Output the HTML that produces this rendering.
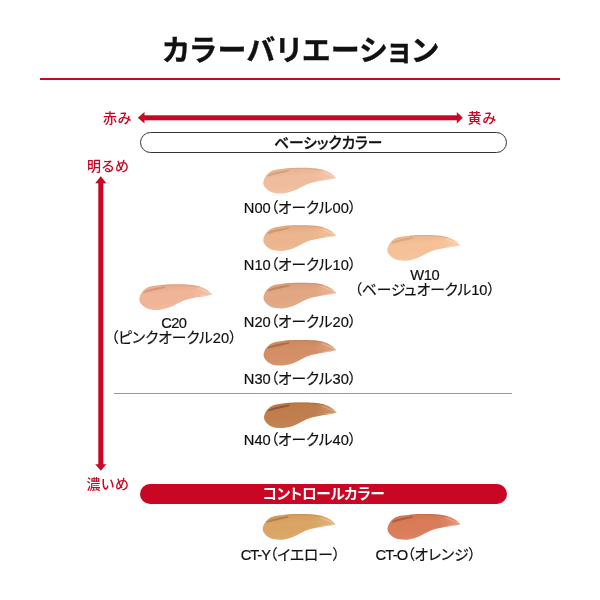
<!DOCTYPE html>
<html lang="ja">
<head>
<meta charset="utf-8">
<title>カラーバリエーション</title>
<style>
html,body{margin:0;padding:0;background:#fff;}
body{width:600px;height:600px;position:relative;overflow:hidden;font-family:"Liberation Sans","Noto Sans CJK JP",sans-serif;color:#111;}
.abs{position:absolute;white-space:nowrap;}
h1{position:absolute;left:0;top:29.2px;width:600px;margin:0;text-align:center;font-size:29px;line-height:44px;font-weight:700;color:#111;letter-spacing:1px;text-indent:2px;-webkit-text-stroke:0.3px #111;font-feature-settings:"palt";}
.rule{position:absolute;left:40px;top:78px;width:520px;height:2px;background:#c90725;}
.red{color:#c90725;font-size:14px;line-height:20px;font-weight:500;letter-spacing:0.6px;font-feature-settings:"palt";}
.pill{position:absolute;left:140px;width:367px;height:20px;border-radius:11px;box-sizing:border-box;text-align:center;font-size:14.7px;line-height:19px;font-feature-settings:"palt";}
.pill.basic{top:131.8px;height:21.7px;border:1.2px solid #333;background:#fff;color:#111;font-weight:500;-webkit-text-stroke:0.3px #111;padding-left:9.5px;line-height:21.6px;}
.pill.ctrl{top:483.8px;height:20.4px;background:#c90725;color:#fff;font-weight:700;line-height:21px;letter-spacing:-0.3px;}
.gline{position:absolute;left:114px;top:393.2px;width:397.5px;height:1.3px;background:#999;}
.lbl{position:absolute;white-space:nowrap;font-size:14.7px;line-height:15.5px;font-feature-settings:"palt";text-align:center;color:#111;font-weight:400;-webkit-text-stroke:0.2px #111;transform:translateX(-50%);}
svg{position:absolute;left:0;top:0;}
</style>
</head>
<body>
<h1>カラーバリエーション</h1>
<div class="rule"></div>

<div class="abs red" style="left:103px;top:108px;">赤み</div>
<div class="abs red" style="left:467.6px;top:108px;">黄み</div>
<div class="abs red" style="left:87px;top:156px;">明るめ</div>
<div class="abs red" style="left:86.5px;top:474.4px;">濃いめ</div>

<div class="pill basic">ベーシックカラー</div>
<div class="pill ctrl">コントロールカラー</div>
<div class="gline"></div>

<svg width="600" height="600" viewBox="0 0 600 600">
  <defs>
    <path id="sw" d="M0.0,15.1 C0.0,13.2 1.1,10.3 2.4,8.4 C3.7,6.5 5.6,4.7 7.8,3.5 C10.0,2.3 12.5,2.0 15.4,1.5 C18.3,1.0 21.7,0.7 25.2,0.4 C28.7,0.2 32.2,0.0 36.4,0.0 C40.6,0.0 46.4,0.0 50.4,0.4 C54.4,0.8 57.4,1.4 60.2,2.2 C63.0,3.0 65.1,4.0 67.2,5.3 C69.3,6.6 72.8,10.2 72.8,10.2 C72.8,10.2 69.8,11.1 67.2,11.6 C64.6,12.1 60.7,12.4 57.4,13.0 C54.1,13.6 50.6,14.2 47.6,15.1 C44.6,16.0 42.0,17.3 39.2,18.6 C36.4,19.9 33.6,21.7 30.8,22.8 C28.0,23.9 25.2,24.7 22.4,25.2 C19.6,25.7 16.6,25.8 14.0,25.6 C11.4,25.4 9.0,24.7 7.0,23.8 C5.0,22.9 3.3,21.4 2.1,20.0 C0.9,18.6 -0.0,17.0 0.0,15.1Z"/>
    <linearGradient id="tipg" x1="0" y1="0" x2="1" y2="0"><stop offset="0" stop-color="#fff" stop-opacity="0"/><stop offset="0.7" stop-color="#fff" stop-opacity="0"/><stop offset="1" stop-color="#ffe9c0" stop-opacity="0.22"/></linearGradient>
    <linearGradient id="vg" x1="0" y1="0" x2="0.25" y2="1"><stop offset="0" stop-color="#a04a14" stop-opacity="0.13"/><stop offset="0.45" stop-color="#a04a14" stop-opacity="0"/><stop offset="1" stop-color="#fff" stop-opacity="0.07"/></linearGradient>
    <filter id="soft" x="-5%" y="-10%" width="110%" height="120%"><feGaussianBlur stdDeviation="0.35"/></filter>
  </defs>
  <!-- arrows -->
  <g fill="#c90725">
    <rect x="143" y="115.3" width="315" height="5"/>
    <polygon points="137.8,117.8 144.5,112 144.5,123.6"/>
    <polygon points="462.8,117.8 456.8,112 456.8,123.6"/>
    <rect x="98.3" y="182" width="5" height="283"/>
    <polygon points="100.8,176.3 95.2,183.3 106.4,183.3"/>
    <polygon points="100.8,470.8 95.2,464.3 106.4,464.3"/>
  </g>
  <g transform="translate(263.3 167.8)" filter="url(#soft)"><use href="#sw" fill="#f0be9e"/><use href="#sw" fill="url(#tipg)"/><use href="#sw" fill="url(#vg)"/><path d="M58,3.6 L71.5,9.2 M61,11.6 L71,10.6" stroke="#fff" stroke-width="0.6" opacity="0.45" fill="none"/><path d="M5,7.8 C9,6.4 15,5.6 25,3 C18,3.9 10,5 5,7.8Z" fill="#d39e7a" stroke="#d39e7a" stroke-width="1.6" stroke-linejoin="round" opacity="0.9"/><path d="M22,1.2 C34,0.2 48,0.2 60,2.4" fill="none" stroke="#cc9976" stroke-width="0.9" stroke-linecap="round" opacity="0.5"/></g>
  <g transform="translate(263.3 225.2)" filter="url(#soft)"><use href="#sw" fill="#ecb68e"/><use href="#sw" fill="url(#tipg)"/><use href="#sw" fill="url(#vg)"/><path d="M58,3.6 L71.5,9.2 M61,11.6 L71,10.6" stroke="#fff" stroke-width="0.6" opacity="0.45" fill="none"/><path d="M5,7.8 C9,6.4 15,5.6 25,3 C18,3.9 10,5 5,7.8Z" fill="#cc956c" stroke="#cc956c" stroke-width="1.6" stroke-linejoin="round" opacity="0.9"/><path d="M22,1.2 C34,0.2 48,0.2 60,2.4" fill="none" stroke="#c8926a" stroke-width="0.9" stroke-linecap="round" opacity="0.5"/></g>
  <g transform="translate(263.5 282.7)" filter="url(#soft)"><use href="#sw" fill="#e2a783"/><use href="#sw" fill="url(#tipg)"/><use href="#sw" fill="url(#vg)"/><path d="M58,3.6 L71.5,9.2 M61,11.6 L71,10.6" stroke="#fff" stroke-width="0.6" opacity="0.45" fill="none"/><path d="M5,7.8 C9,6.4 15,5.6 25,3 C18,3.9 10,5 5,7.8Z" fill="#bc8460" stroke="#bc8460" stroke-width="1.6" stroke-linejoin="round" opacity="0.9"/><path d="M22,1.2 C34,0.2 48,0.2 60,2.4" fill="none" stroke="#c08661" stroke-width="0.9" stroke-linecap="round" opacity="0.5"/></g>
  <g transform="translate(263.6 339.9)" filter="url(#soft)"><use href="#sw" fill="#d48f66"/><use href="#sw" fill="url(#tipg)"/><use href="#sw" fill="url(#vg)"/><path d="M58,3.6 L71.5,9.2 M61,11.6 L71,10.6" stroke="#fff" stroke-width="0.6" opacity="0.45" fill="none"/><path d="M5,7.8 C9,6.4 15,5.6 25,3 C18,3.9 10,5 5,7.8Z" fill="#a66a46" stroke="#a66a46" stroke-width="1.5" stroke-linejoin="round" opacity="0.9"/><path d="M22,1.2 C34,0.2 48,0.2 60,2.4" fill="none" stroke="#b4734c" stroke-width="0.9" stroke-linecap="round" opacity="0.5"/></g>
  <g transform="translate(264 402.4)" filter="url(#soft)"><use href="#sw" fill="#c07e4e"/><use href="#sw" fill="url(#tipg)"/><use href="#sw" fill="url(#vg)"/><path d="M58,3.6 L71.5,9.2 M61,11.6 L71,10.6" stroke="#fff" stroke-width="0.6" opacity="0.45" fill="none"/><path d="M5,7.8 C9,6.4 15,5.6 25,3 C18,3.9 10,5 5,7.8Z" fill="#8a5631" stroke="#8a5631" stroke-width="1.5" stroke-linejoin="round" opacity="0.9"/><path d="M22,1.2 C34,0.2 48,0.2 60,2.4" fill="none" stroke="#a3653a" stroke-width="0.9" stroke-linecap="round" opacity="0.5"/></g>
  <g transform="translate(139.3 284.3)" filter="url(#soft)"><use href="#sw" fill="#f1b599"/><use href="#sw" fill="url(#tipg)"/><use href="#sw" fill="url(#vg)"/><path d="M58,3.6 L71.5,9.2 M61,11.6 L71,10.6" stroke="#fff" stroke-width="0.6" opacity="0.45" fill="none"/><path d="M5,7.8 C9,6.4 15,5.6 25,3 C18,3.9 10,5 5,7.8Z" fill="#d49776" stroke="#d49776" stroke-width="1.6" stroke-linejoin="round" opacity="0.9"/><path d="M22,1.2 C34,0.2 48,0.2 60,2.4" fill="none" stroke="#cc9272" stroke-width="0.9" stroke-linecap="round" opacity="0.5"/></g>
  <g transform="translate(387.3 235)" filter="url(#soft)"><use href="#sw" fill="#f5c29a"/><use href="#sw" fill="url(#tipg)"/><use href="#sw" fill="url(#vg)"/><path d="M58,3.6 L71.5,9.2 M61,11.6 L71,10.6" stroke="#fff" stroke-width="0.6" opacity="0.45" fill="none"/><path d="M5,7.8 C9,6.4 15,5.6 25,3 C18,3.9 10,5 5,7.8Z" fill="#dba579" stroke="#dba579" stroke-width="1.6" stroke-linejoin="round" opacity="0.9"/><path d="M22,1.2 C34,0.2 48,0.2 60,2.4" fill="none" stroke="#d09c73" stroke-width="0.9" stroke-linecap="round" opacity="0.5"/></g>
  <g transform="translate(262.7 514)" filter="url(#soft)"><use href="#sw" fill="#daa565"/><use href="#sw" fill="url(#tipg)"/><use href="#sw" fill="url(#vg)"/><path d="M58,3.6 L71.5,9.2 M61,11.6 L71,10.6" stroke="#fff" stroke-width="0.6" opacity="0.45" fill="none"/><path d="M5,7.8 C9,6.4 15,5.6 25,3 C18,3.9 10,5 5,7.8Z" fill="#af7e47" stroke="#af7e47" stroke-width="1.5" stroke-linejoin="round" opacity="0.9"/><path d="M22,1.2 C34,0.2 48,0.2 60,2.4" fill="none" stroke="#b9854b" stroke-width="0.9" stroke-linecap="round" opacity="0.5"/></g>
  <g transform="translate(387.5 514)" filter="url(#soft)"><use href="#sw" fill="#d97c5a"/><use href="#sw" fill="url(#tipg)"/><use href="#sw" fill="url(#vg)"/><path d="M58,3.6 L71.5,9.2 M61,11.6 L71,10.6" stroke="#fff" stroke-width="0.6" opacity="0.45" fill="none"/><path d="M5,7.8 C9,6.4 15,5.6 25,3 C18,3.9 10,5 5,7.8Z" fill="#ab593c" stroke="#ab593c" stroke-width="1.5" stroke-linejoin="round" opacity="0.9"/><path d="M22,1.2 C34,0.2 48,0.2 60,2.4" fill="none" stroke="#b65f40" stroke-width="0.9" stroke-linecap="round" opacity="0.5"/></g>
</svg>

<div class="lbl" style="left:300px;top:201px;">N00（オークル00）</div>
<div class="lbl" style="left:300px;top:258px;">N10（オークル10）</div>
<div class="lbl" style="left:300px;top:315px;">N20（オークル20）</div>
<div class="lbl" style="left:300px;top:372px;">N30（オークル30）</div>
<div class="lbl" style="left:300px;top:432.8px;">N40（オークル40）</div>
<div class="lbl" style="left:173.8px;top:315.5px;"><span style="letter-spacing:-0.6px">C20</span><br>（ピンクオークル20）</div>
<div class="lbl" style="left:424.7px;top:267.7px;"><span style="letter-spacing:-0.4px">W10</span><br>（ベージュオークル10）</div>
<div class="lbl" style="left:290.5px;top:547.5px;"><span style="letter-spacing:-1.1px">CT-Y</span>（イエロー）</div>
<div class="lbl" style="left:425.7px;top:547.5px;"><span style="letter-spacing:-0.85px">CT-O</span>（オレンジ）</div>
</body>
</html>
